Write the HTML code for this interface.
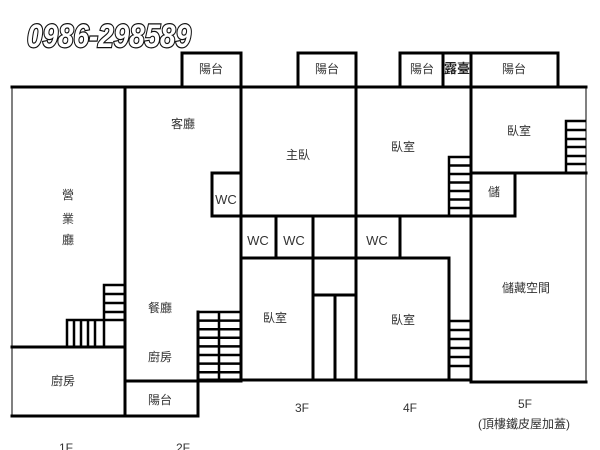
<!DOCTYPE html>
<html><head><meta charset="utf-8"><style>
body{margin:0;background:#fff}
svg{display:block}
text{font-family:"Liberation Sans","Noto Sans CJK TC",sans-serif;fill:#333;font-size:12px}
.ph{font-family:"Liberation Sans",sans-serif;font-weight:bold;font-style:italic;font-size:32px;fill:#fff;stroke:#111;stroke-width:2.4px;paint-order:stroke}
</style></head><body>
<svg width="600" height="450" viewBox="0 0 600 450">
<text class="ph" x="27" y="47" textLength="164" lengthAdjust="spacingAndGlyphs">0986-298589</text>
<g stroke="#000" stroke-width="3" fill="none" stroke-linecap="square">
<line x1="12" y1="87" x2="586" y2="87"/>
<polyline points="182,87 182,53 241,53 241,87"/>
<polyline points="298,87 298,53 356,53 356,87"/>
<polyline points="400,87 400,53 558,53 558,87"/>
<line x1="443" y1="53" x2="443" y2="87"/>
<line x1="471" y1="53" x2="471" y2="87"/>
<line x1="125" y1="87" x2="125" y2="416"/>
<line x1="241" y1="87" x2="241" y2="381"/>
<line x1="356" y1="87" x2="356" y2="380"/>
<line x1="471" y1="87" x2="471" y2="382"/>
<polyline points="241,173 212,173 212,216 241,216"/>
<line x1="12" y1="347" x2="125" y2="347"/>
<line x1="12" y1="416" x2="198" y2="416"/>
<line x1="125" y1="381" x2="241" y2="381"/>
<line x1="198" y1="312" x2="198" y2="416"/>
<line x1="241" y1="216" x2="471" y2="216"/>
<line x1="241" y1="258" x2="449" y2="258"/>
<line x1="276" y1="216" x2="276" y2="258"/>
<line x1="313" y1="216" x2="313" y2="380"/>
<line x1="400" y1="216" x2="400" y2="258"/>
<line x1="313" y1="295" x2="356" y2="295"/>
<line x1="335" y1="295" x2="335" y2="380"/>
<line x1="198" y1="380" x2="471" y2="380"/>
<line x1="449" y1="258" x2="449" y2="380"/>
<line x1="471" y1="173" x2="586" y2="173"/>
<polyline points="515,173 515,216 471,216"/>
<line x1="471" y1="382" x2="586" y2="382"/>
</g>
<g stroke="#000" stroke-width="1" fill="none">
<line x1="12" y1="87" x2="12" y2="416"/>
<line x1="586" y1="87" x2="586" y2="382"/>
</g>
<g stroke="#000" stroke-width="2.5" fill="none">
<polyline points="104,346 104,285 125,285"/>
<line x1="104" y1="294" x2="125" y2="294"/>
<line x1="104" y1="303" x2="125" y2="303"/>
<line x1="104" y1="312" x2="125" y2="312"/>
<polyline points="67,346 67,320 125,320"/>
<line x1="74" y1="320" x2="74" y2="346"/>
<line x1="81" y1="320" x2="81" y2="346"/>
<line x1="88" y1="320" x2="88" y2="346"/>
<line x1="95" y1="320" x2="95" y2="346"/>
<line x1="198" y1="312" x2="241" y2="312"/>
<line x1="219" y1="312" x2="219" y2="381"/>
<line x1="198" y1="320.6" x2="241" y2="320.6"/>
<line x1="198" y1="329.2" x2="241" y2="329.2"/>
<line x1="198" y1="337.8" x2="241" y2="337.8"/>
<line x1="198" y1="346.4" x2="241" y2="346.4"/>
<line x1="198" y1="355" x2="241" y2="355"/>
<line x1="198" y1="363.6" x2="241" y2="363.6"/>
<line x1="198" y1="372.2" x2="241" y2="372.2"/>
<polyline points="449,216 449,157 471,157"/>
<line x1="449" y1="165.5" x2="471" y2="165.5"/>
<line x1="449" y1="174" x2="471" y2="174"/>
<line x1="449" y1="182.5" x2="471" y2="182.5"/>
<line x1="449" y1="191" x2="471" y2="191"/>
<line x1="449" y1="199.5" x2="471" y2="199.5"/>
<line x1="449" y1="208" x2="471" y2="208"/>
<line x1="449" y1="321" x2="471" y2="321"/>
<line x1="449" y1="330" x2="471" y2="330"/>
<line x1="449" y1="339" x2="471" y2="339"/>
<line x1="449" y1="348" x2="471" y2="348"/>
<line x1="449" y1="357" x2="471" y2="357"/>
<line x1="449" y1="366" x2="471" y2="366"/>
<polyline points="566,173 566,121 586,121"/>
<line x1="566" y1="130" x2="586" y2="130"/>
<line x1="566" y1="139" x2="586" y2="139"/>
<line x1="566" y1="147" x2="586" y2="147"/>
<line x1="566" y1="156" x2="586" y2="156"/>
<line x1="566" y1="164" x2="586" y2="164"/>
</g>
<g text-anchor="middle">
<text x="211" y="73">陽台</text>
<text x="327" y="73">陽台</text>
<text x="422" y="73">陽台</text>
<text x="457" y="73" style="font-size:13px;font-weight:bold;fill:#222">露臺</text>
<text x="514" y="73">陽台</text>
<text x="68" y="199">營</text>
<text x="68" y="223">業</text>
<text x="68" y="244">廳</text>
<text x="183" y="128">客廳</text>
<text x="298" y="159">主臥</text>
<text x="403" y="151">臥室</text>
<text x="519" y="135">臥室</text>
<text x="494" y="196">儲</text>
<text x="226" y="204" style="font-size:13px">WC</text>
<text x="258" y="245" style="font-size:13px">WC</text>
<text x="294" y="245" style="font-size:13px">WC</text>
<text x="377" y="245" style="font-size:13px">WC</text>
<text x="160" y="312">餐廳</text>
<text x="160" y="361">廚房</text>
<text x="63" y="385">廚房</text>
<text x="160" y="404">陽台</text>
<text x="275" y="322">臥室</text>
<text x="403" y="324">臥室</text>
<text x="526" y="292">儲藏空間</text>
<text x="302" y="412">3F</text>
<text x="410" y="412">4F</text>
<text x="525" y="408">5F</text>
<text x="524" y="428">(頂樓鐵皮屋加蓋)</text>
<text x="66" y="452">1F</text>
<text x="183" y="452">2F</text>
</g>
</svg>
</body></html>
